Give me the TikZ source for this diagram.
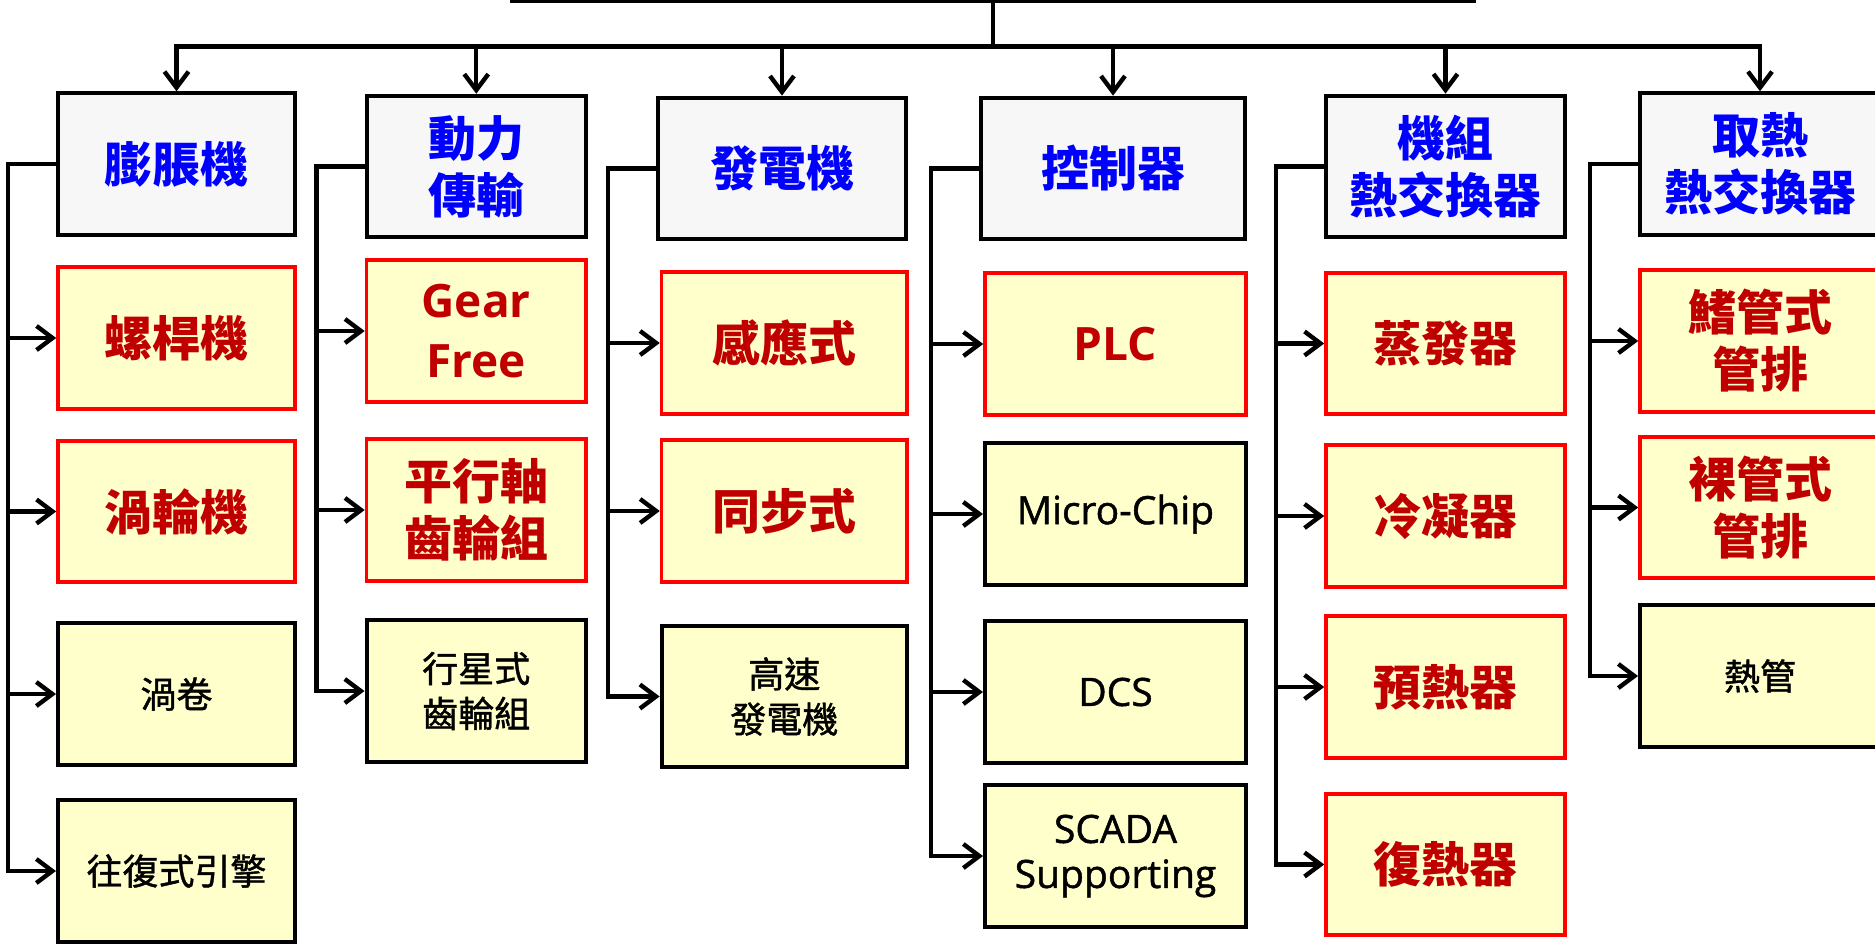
\documentclass[tikz,border=0pt]{standalone}
\usepackage{fontspec}
\setmainfont{Noto Sans CJK TC}
\newfontfamily\cjkmed{Noto Sans CJK TC}[FakeBold=1.2]
\newfontfamily\lat{Open Sans}
\newfontfamily\latmed{Open Sans}[FakeBold=1.2]
\usetikzlibrary{arrows.meta}
\definecolor{hdrfill}{HTML}{F7F7F7}
\definecolor{boxfill}{HTML}{FFFFCC}
\definecolor{redtxt}{HTML}{C00000}
\definecolor{bluetxt}{HTML}{0000FF}
\definecolor{redline}{HTML}{FF0000}
\begin{document}
\begin{tikzpicture}[x=0.5pt,y=-0.5pt,
  box/.style={draw, line width=2pt, rectangle, inner sep=0pt, align=center, minimum height=70.75pt},
  hdr/.style={box, fill=hdrfill, text=bluetxt, font=\fontsize{24}{28.5}\selectfont\bfseries},
  redbox/.style={box, draw=redline, line width=1.8pt, fill=boxfill, text=redtxt, font=\fontsize{24}{28.5}\selectfont\bfseries},
  blkbox/.style={box, fill=boxfill, text=black, font=\cjkmed\fontsize{18}{22.5}\selectfont},
  latred/.style={font=\lat\fontsize{23}{30}\selectfont\bfseries},
  latblk/.style={font=\latmed\fontsize{19.5}{22.5}\selectfont},
  arr/.style={line width=2.2pt, -{Straight Barb[length=8pt,width=12pt,line width=2.2pt]}},
  ln/.style={line width=2.2pt},
  wa/.style={minimum width=118.5pt},
  wb/.style={minimum width=109.75pt},
  wc/.style={minimum width=124pt},
  wcc/.style={minimum width=122.7pt},
  wd/.style={minimum width=132pt},
  wdd/.style={minimum width=130.5pt},
  we/.style={minimum width=119.5pt},
  wf/.style={minimum width=120pt},
]
\useasboundingbox (0,0) rectangle (1875,943);
% root (only bottom edge visible)
\node[draw, line width=2pt, minimum width=481pt, minimum height=41pt, inner sep=0pt] (root) at (993,-40) {};
\coordinate (bus) at (0,46.5);
% headers
\node[hdr, wa] (h1) at (176.5,164) {膨脹機};
\node[hdr, wb] (h2) at (476.25,166.5) {動力\\傳輸};
\node[hdr, wc] (h3) at (782,168.4) {發電機};
\node[hdr, wd] (h4) at (1113,168.4) {控制器};
\node[hdr, we] (h5) at (1445.5,166.4) {機組\\熱交換器};
\node[hdr, wf] (h6) at (1760,164) {取熱\\熱交換器};
% column 1
\node[redbox, wa] (a1) at (176.5,338) {螺桿機};
\node[redbox, wa] (a2) at (176.5,511.5) {渦輪機};
\node[blkbox, wa] (a3) at (176.5,694) {渦卷};
\node[blkbox, wa] (a4) at (176.5,871) {往復式引擎};
% column 2
\node[redbox, wb, latred] (b1) at (476.25,331) {Gear\\Free};
\node[redbox, wb] (b2) at (476.25,510) {平行軸\\齒輪組};
\node[blkbox, wb] (b3) at (476.25,691) {行星式\\齒輪組};
% column 3
\node[redbox, wcc] (c1) at (784.3,343) {感應式};
\node[redbox, wcc] (c2) at (784.3,511) {同步式};
\node[blkbox, wcc] (c3) at (784.3,696.5) {高速\\發電機};
% column 4
\node[redbox, wdd, latred] (d1) at (1115.5,344) {PLC};
\node[blkbox, wdd, latblk] (d2) at (1115.5,514) {Micro-Chip};
\node[blkbox, wdd, latblk] (d3) at (1115.5,692) {DCS};
\node[blkbox, wdd, latblk] (d4) at (1115.5,856) {SCADA\\Supporting};
% column 5
\node[redbox, we] (e1) at (1445.5,343.5) {蒸發器};
\node[redbox, we] (e2) at (1445.5,516) {冷凝器};
\node[redbox, we] (e3) at (1445.5,687) {預熱器};
\node[redbox, we] (e4) at (1445.5,864.5) {復熱器};
% column 6
\node[redbox, wf] (f1) at (1760,341) {鰭管式\\管排};
\node[redbox, wf] (f2) at (1760,507.5) {裸管式\\管排};
\node[blkbox, wf] (f3) at (1760,676) {熱管};
% top connectors
\draw[ln] (root.south) -- (root.south |- bus);
\foreach \h in {h1,h2,h3,h4,h5,h6}
  \draw[arr] (root.south |- bus) -| (\h.north);
% trunks
\foreach \c in {a1,a2,a3,a4} \draw[arr] (h1.west) -- ++(-48,0) |- (\c.west);
\foreach \c in {b1,b2,b3} \draw[arr] (h2.west) -- ++(-48,0) |- (\c.west);
\foreach \c in {c1,c2,c3} \draw[arr] (h3.west) -- ++(-48,0) |- (\c.west);
\foreach \c in {d1,d2,d3,d4} \draw[arr] (h4.west) -- ++(-48,0) |- (\c.west);
\foreach \c in {e1,e2,e3,e4} \draw[arr] (h5.west) -- ++(-48,0) |- (\c.west);
\foreach \c in {f1,f2,f3} \draw[arr] (h6.west) -- ++(-48,0) |- (\c.west);
\end{tikzpicture}
\end{document}
